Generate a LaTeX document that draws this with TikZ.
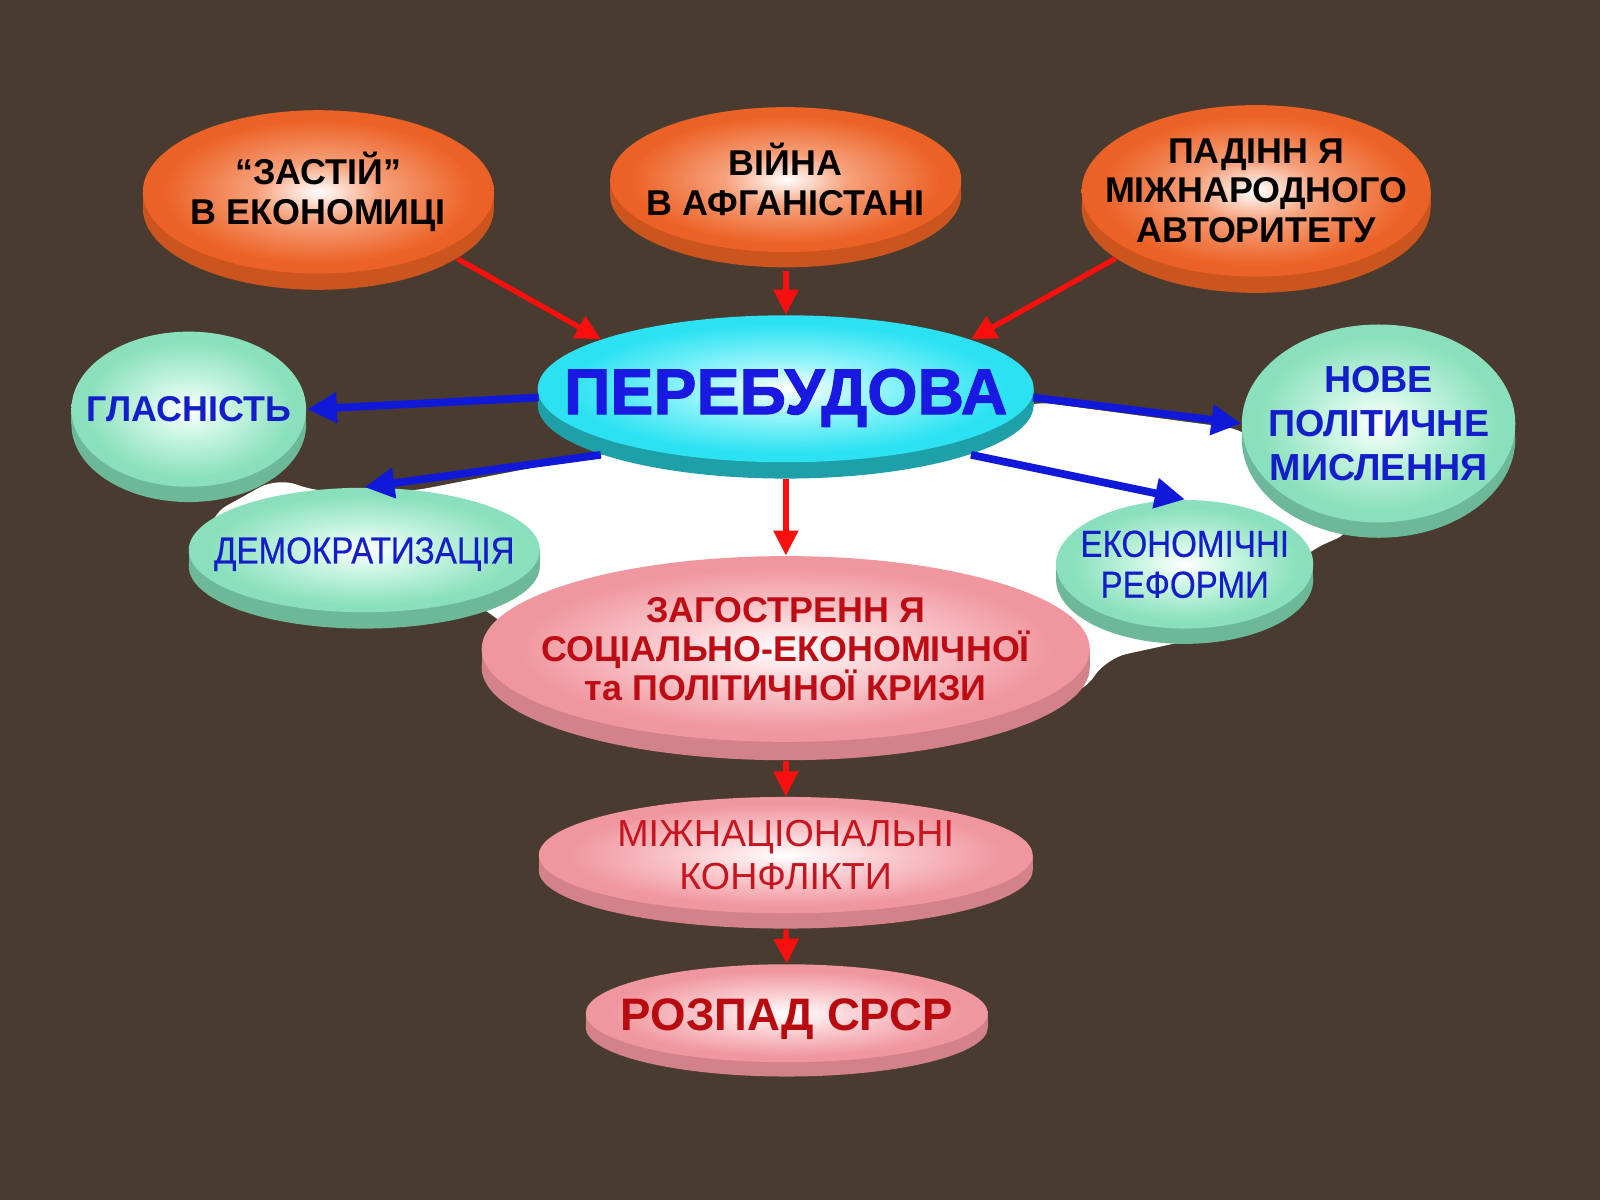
\documentclass[tikz,border=0pt]{standalone}
\usepackage{fontspec}
\setmainfont{Liberation Sans}
\newfontfamily\narrowfont{Liberation Sans}[FakeStretch=0.88,FakeBold=0.5]
\newfontfamily\heavyfont{Liberation Sans Bold}[FakeBold=1.6]
\usetikzlibrary{shapes.geometric,arrows.meta}

\definecolor{bg}{RGB}{74,59,49}
\definecolor{oraedge}{RGB}{236,98,38}
\definecolor{oramid}{RGB}{246,160,122}
\definecolor{oraside}{RGB}{204,84,30}
\definecolor{cyaedge}{RGB}{44,226,242}
\definecolor{cyamid}{RGB}{150,245,250}
\definecolor{cyaside}{RGB}{30,160,168}
\definecolor{grnedge}{RGB}{138,224,188}
\definecolor{grnmid}{RGB}{200,245,225}
\definecolor{grnside}{RGB}{108,184,152}
\definecolor{pnkedge}{RGB}{240,150,158}
\definecolor{pnkmid}{RGB}{250,208,212}
\definecolor{pnkside}{RGB}{212,130,138}
\definecolor{arrred}{RGB}{250,15,15}
\definecolor{arrblue}{RGB}{15,25,215}
\definecolor{txtblue}{RGB}{20,30,200}
\definecolor{txtred}{RGB}{190,12,20}

\pgfdeclareradialshading{orashade}{\pgfpoint{0bp}{0bp}}{color(0bp)=(white); color(9bp)=(oramid); color(22bp)=(oraedge); color(50bp)=(oraedge)}
\pgfdeclareradialshading{cyashade}{\pgfpoint{0bp}{0bp}}{color(0bp)=(white); color(9bp)=(cyamid); color(22bp)=(cyaedge); color(50bp)=(cyaedge)}
\pgfdeclareradialshading{grnshade}{\pgfpoint{0bp}{0bp}}{color(0bp)=(white); color(9bp)=(grnmid); color(22bp)=(grnedge); color(50bp)=(grnedge)}
\pgfdeclareradialshading{pnkshade}{\pgfpoint{0bp}{0bp}}{color(0bp)=(white); color(9bp)=(pnkmid); color(22bp)=(pnkedge); color(50bp)=(pnkedge)}

% #1 name, #2 x, #3 y, #4 rx, #5 ry, #6 depth, #7 kind, #8 text style, #9 text
\newcommand\disc[9]{%
  \fill[#7side] (#2,#3+#6) ellipse [x radius=#4, y radius=#5];
  \fill[#7side] (#2-#4,#3) rectangle (#2+#4,#3+#6);
  \node[discnode, shade, shading=#7shade, minimum width=2*#4*0.1mm, minimum height=2*#5*0.1mm, #8] (#1) at (#2,#3) {#9};
}

\tikzset{
  discnode/.style={ellipse, inner sep=-60mm, align=center},
  blacklbl/.style={text=black, font=\fontsize{10}{11}\selectfont\bfseries},
  biglbl/.style={text={rgb,255:red,25;green,25;blue,225}, font=\heavyfont\fontsize{18}{20}\selectfont},
  bluebold/.style={text=txtblue, font=\fontsize{10}{12}\selectfont\bfseries},
  bluebig/.style={text=txtblue, font=\fontsize{10.5}{12.2}\selectfont\bfseries},
  bluereg/.style={text=txtblue, font=\narrowfont\fontsize{10.5}{11.4}\selectfont},
  redbold/.style={text=txtred, font=\fontsize{10}{10.8}\selectfont\bfseries},
  redreg/.style={text={rgb,255:red,200;green,20;blue,30}, font=\fontsize{10.5}{12}\selectfont},
  redbig/.style={text={rgb,255:red,185;green,10;blue,15}, font=\fontsize{12.7}{14}\selectfont\bfseries},
  redarr/.style={draw=arrred, line width=1.5pt, -{Triangle[length=2.5mm,width=2.4mm]}},
  bluarr/.style={draw=arrblue, line width=2.2pt, -{Triangle[length=3mm,width=2.9mm]}}
}

\begin{document}
\begin{tikzpicture}[x=0.1mm,y=-0.1mm,scale=1.0204,every node/.append style={transform shape}]
\fill[bg] (0,0) rectangle (1568,1176);
\useasboundingbox (0,0) rectangle (1568,1176);

% white backdrop
\fill[white, rounded corners=2mm] (205,505) -- (272,468) -- (310,482) -- (400,482) -- (560,451)
  -- (620,440) -- (920,440) -- (1010,393) -- (1220,421) -- (1328,520) -- (1282,540)
  -- (1200,620) -- (1085,645) -- (1060,680) -- (1000,690) -- (560,690) -- (490,606)
  -- (460,590) -- (205,560) -- cycle;

% top causes
\disc{zastiy}{312}{188}{172}{80}{16}{ora}{blacklbl}{“ЗАСТІЙ”\\В ЕКОНОМИЦІ}
\disc{vijna}{770}{176}{172}{71}{15}{ora}{blacklbl}{ВІЙНА\\В АФГАНІСТАНІ}
\disc{padinnya}{1231}{187}{171}{84}{16}{ora}{blacklbl}{ПАДІНН Я\\МІЖНАРОДНОГО\\АВТОРИТЕТУ}

% centre
\disc{pereb}{770}{381}{243}{72}{16}{cya}{biglbl}{\raisebox{-0.9mm}[\height][\depth]{ПЕРЕБУДОВА}}

% green branches
\disc{hlas}{185}{401}{115}{76}{15}{grn}{bluebold}{ГЛАСНІСТЬ}
\disc{nove}{1351}{415}{134}{97}{15}{grn}{bluebig}{НОВЕ\\ПОЛІТИЧНЕ\\МИСЛЕННЯ}
\disc{demo}{357}{539}{172}{61}{16}{grn}{bluereg}{\raisebox{-0.4mm}[\height][\depth]{ДЕМОКРАТИЗАЦІЯ}}
\disc{ekon}{1161}{553}{126}{63}{15}{grn}{bluereg}{ЕКОНОМІЧНІ\\РЕФОРМИ}

% consequences
\disc{zag}{770}{636}{298}{91}{18}{pnk}{redbold}{ЗАГОСТРЕНН Я\\СОЦІАЛЬНО-ЕКОНОМІЧНОЇ\\та ПОЛІТИЧНОЇ КРИЗИ}
\disc{mizh}{770}{838}{242}{57}{15}{pnk}{redreg}{МІЖНАЦІОНАЛЬНІ\\КОНФЛІКТИ}
\disc{rozpad}{771}{993}{197}{48}{14}{pnk}{redbig}{\raisebox{-0.6mm}[\height][\depth]{РОЗПАД СРСР}}

% connectors
\draw[redarr] ([yshift=-1.6mm]zastiy.-20) -- (pereb.165);
\draw[redarr] ([yshift=-1.8mm]vijna.south) -- (pereb.north);
\draw[redarr] ([yshift=-1.6mm]padinnya.200) -- (pereb.15);
\draw[redarr] ([yshift=-1.6mm]pereb.south) -- (zag.north);
\draw[redarr] ([yshift=-1.8mm]zag.south) -- (mizh.north);
\draw[redarr] ([yshift=-1.5mm]mizh.south) -- (rozpad.north);
\draw[bluarr] (pereb.182) -- (hlas.east);
\draw[bluarr] ([yshift=-1.6mm]pereb.195) -- (demo.north);
\draw[bluarr] (pereb.-2) -- (nove.west);
\draw[bluarr] ([yshift=-1.6mm]pereb.-15) -- (ekon.north);
\end{tikzpicture}
\end{document}
